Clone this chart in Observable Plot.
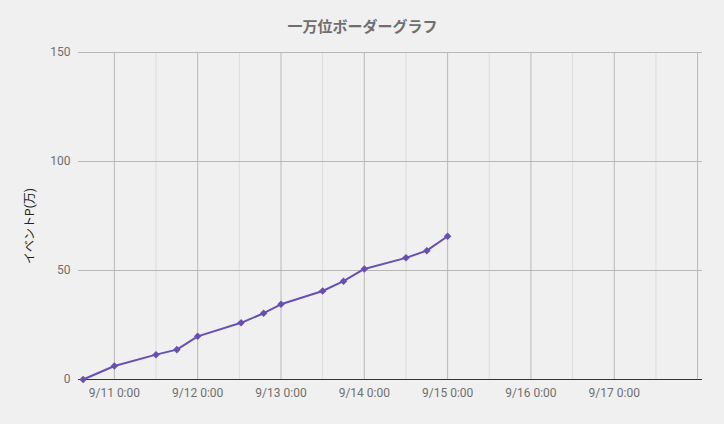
<!DOCTYPE html>
<html>
<head>
<meta charset="utf-8">
<script src="https://cdn.jsdelivr.net/npm/d3@7"></script>
<script src="https://cdn.jsdelivr.net/npm/@observablehq/plot@0.6"></script>
<style>
  html, body { margin: 0; padding: 0; background: #f0f0f0; }
  #chart { width: 724px; height: 424px; }
  svg { font-family: Roboto, "Noto Sans CJK JP", sans-serif; }
</style>
</head>
<body>
<div id="chart"></div>
<script>
const title = "一万位ボーダーグラフ";
const yLabel = "イベントP(万)";
const times = [
  "2019-09-10T15:00Z", "2019-09-11T00:00Z", "2019-09-11T12:00Z", "2019-09-11T18:00Z",
  "2019-09-12T00:00Z", "2019-09-12T12:30Z", "2019-09-12T19:00Z", "2019-09-13T00:00Z",
  "2019-09-13T12:00Z", "2019-09-13T18:00Z", "2019-09-14T00:00Z", "2019-09-14T12:00Z",
  "2019-09-14T18:00Z", "2019-09-15T00:00Z"
];
const values = [0, 6.2, 11.4, 13.7, 19.8, 26.0, 30.4, 34.5, 40.6, 45.1, 50.7, 55.8, 59.1, 65.7];
const xDomain = ["2019-09-10T13:40Z", "2019-09-18T01:25Z"];
const majorTicks = ["2019-09-11T00:00Z", "2019-09-12T00:00Z", "2019-09-13T00:00Z", "2019-09-14T00:00Z",
  "2019-09-15T00:00Z", "2019-09-16T00:00Z", "2019-09-17T00:00Z", "2019-09-18T00:00Z"];
const minorTicks = ["2019-09-11T12:00Z", "2019-09-12T12:00Z", "2019-09-13T12:00Z", "2019-09-14T12:00Z",
  "2019-09-15T12:00Z", "2019-09-16T12:00Z", "2019-09-17T12:00Z"];
const xTickLabels = ["9/11 0:00", "9/12 0:00", "9/13 0:00", "9/14 0:00", "9/15 0:00", "9/16 0:00", "9/17 0:00", ""];
const yTicks = [0, 50, 100, 150];

const data = times.map((t, i) => ({t: new Date(t), v: values[i]}));
const major = majorTicks.map(d => new Date(d));
const minor = minorTicks.map(d => new Date(d));
const labelMap = new Map(major.map((d, i) => [+d, xTickLabels[i]]));
const lineColor = "#6a4fb3";

const chart = Plot.plot({
  width: 724,
  height: 424,
  marginTop: 52,
  marginBottom: 45,
  marginLeft: 78,
  marginRight: 22,
  style: {background: "#f0f0f0", fontFamily: "Roboto, 'Noto Sans CJK JP', sans-serif", fontSize: "12px"},
  x: {type: "utc", domain: xDomain.map(d => new Date(d))},
  y: {domain: [0, 150]},
  marks: [
    Plot.ruleX(minor, {stroke: "#dcdcdc", strokeWidth: 1}),
    Plot.ruleX(major, {stroke: "#b8b8b8", strokeWidth: 1}),
    Plot.ruleY(yTicks.filter(d => d > 0), {stroke: "#b8b8b8", strokeWidth: 1}),
    Plot.axisX(major, {tickSize: 0, tickPadding: 9, tickFormat: d => labelMap.get(+d), fill: "#6f6f6f", fontSize: 12, label: null}),
    Plot.axisY(yTicks, {tickSize: 0, tickPadding: 8, fill: "#6f6f6f", fontSize: 12, label: null}),
    Plot.ruleY([0], {stroke: "#333333", strokeWidth: 1.2}),
    Plot.line(data, {x: "t", y: "v", stroke: lineColor, strokeWidth: 2}),
    Plot.dot(data, {x: "t", y: "v", symbol: "square", rotate: 45, r: 3, fill: lineColor}),
    Plot.text([title], {frameAnchor: "top", dx: -28, dy: -25, text: d => d, fontSize: 15, fontWeight: "bold", fill: "#6f6f6f", lineAnchor: "middle"}),
    Plot.text([yLabel], {frameAnchor: "left", dx: -48, dy: 10, rotate: -90, text: d => d, fontSize: 12, fill: "#222222", textAnchor: "middle", lineAnchor: "middle"})
  ]
});
document.getElementById("chart").appendChild(chart);
</script>
</body>
</html>
